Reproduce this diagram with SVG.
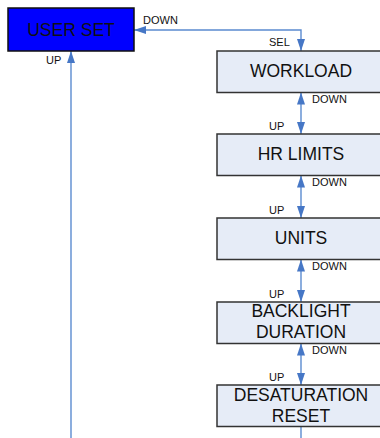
<svg xmlns="http://www.w3.org/2000/svg" width="380" height="438" viewBox="0 0 380 438">
<style>
.box{fill:#E6ECF7;stroke:#333;stroke-width:1.5}
.main{font-family:"Liberation Sans",Arial,sans-serif;font-size:17.5px;fill:#111;text-anchor:middle}
.lbl{font-family:"Liberation Sans",Arial,sans-serif;font-size:11px;fill:#111}
.con{fill:none;stroke:#5B8BD0;stroke-width:1.4}
</style>
<defs>
<marker id="ah" markerUnits="userSpaceOnUse" markerWidth="12" markerHeight="8" refX="12" refY="4" orient="auto-start-reverse" viewBox="0 0 12 8">
<path d="M0,0 L12,4 L0,8 z" fill="#4677C6"/>
</marker>
</defs>
<rect width="380" height="438" fill="#fff"/>
<g id="connectors">
<path class="con" d="M301,51 V30 H134" marker-start="url(#ah)" marker-end="url(#ah)"/>
<path class="con" d="M71,438 V51" marker-end="url(#ah)"/>
<path class="con" d="M301,92.5 V134" marker-start="url(#ah)" marker-end="url(#ah)"/>
<path class="con" d="M301,175.5 V218" marker-start="url(#ah)" marker-end="url(#ah)"/>
<path class="con" d="M301,259.5 V302" marker-start="url(#ah)" marker-end="url(#ah)"/>
<path class="con" d="M301,343.5 V385" marker-start="url(#ah)" marker-end="url(#ah)"/>
<path class="con" d="M301,426.5 V438"/>
<text class="lbl" x="143" y="24">DOWN</text>
<text class="lbl" x="46" y="64">UP</text>
<text class="lbl" x="269" y="46">SEL</text>
<text class="lbl" x="312" y="103">DOWN</text>
<text class="lbl" x="269" y="130">UP</text>
<text class="lbl" x="312" y="186">DOWN</text>
<text class="lbl" x="269" y="214">UP</text>
<text class="lbl" x="312" y="270">DOWN</text>
<text class="lbl" x="269" y="298">UP</text>
<text class="lbl" x="312" y="354">DOWN</text>
<text class="lbl" x="269" y="381">UP</text>
</g>
<g id="user-set">
<rect x="8" y="8" width="126" height="43" fill="#0000FF" stroke="#111" stroke-width="1.5"/>
<text class="main" x="71" y="36">USER SET</text>
</g>
<g id="workload">
<rect class="box" x="217" y="51" width="168" height="41.5"/>
<text class="main" x="301" y="77">WORKLOAD</text>
</g>
<g id="hr-limits">
<rect class="box" x="217" y="134" width="168" height="41.5"/>
<text class="main" x="301" y="160">HR LIMITS</text>
</g>
<g id="units">
<rect class="box" x="217" y="218" width="168" height="41.5"/>
<text class="main" x="301" y="244">UNITS</text>
</g>
<g id="backlight-duration">
<rect class="box" x="217" y="302" width="168" height="41.5"/>
<text class="main" x="301" y="317">BACKLIGHT</text>
<text class="main" x="301" y="338">DURATION</text>
</g>
<g id="desaturation-reset">
<rect class="box" x="217" y="385" width="168" height="41.5"/>
<text class="main" x="301" y="401">DESATURATION</text>
<text class="main" x="301" y="422">RESET</text>
</g>
</svg>
